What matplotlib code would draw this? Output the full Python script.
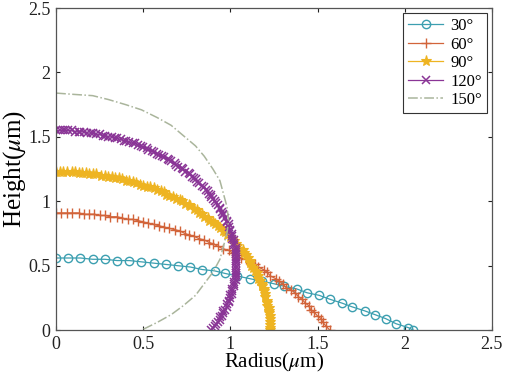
import matplotlib
matplotlib.use("Agg")
import matplotlib.pyplot as plt

plt.rcParams['font.family'] = ['Liberation Serif', 'DejaVu Serif']
plt.rcParams['mathtext.fontset'] = 'stix'

# droplet profiles, one point per marker
labels = ['30°', '60°', '90°', '120°', '150°']

r30 = [0.00, 0.07, 0.14, 0.21, 0.28, 0.35, 0.42, 0.49, 0.56, 0.63, 0.70, 0.77,
       0.84, 0.91, 0.97, 1.04, 1.11, 1.18, 1.25, 1.31, 1.38, 1.44, 1.51, 1.57,
       1.64, 1.70, 1.77, 1.83, 1.89, 1.95, 2.02, 2.05]
h30 = [0.56, 0.56, 0.56, 0.55, 0.55, 0.54, 0.54, 0.53, 0.52, 0.51, 0.50, 0.49,
       0.47, 0.46, 0.44, 0.42, 0.40, 0.38, 0.36, 0.34, 0.32, 0.29, 0.27, 0.24,
       0.21, 0.18, 0.15, 0.12, 0.09, 0.05, 0.02, 0.00]

r60 = [0.00, 0.03, 0.06, 0.09, 0.13, 0.16, 0.19, 0.22, 0.25, 0.28, 0.31, 0.35,
       0.38, 0.41, 0.44, 0.47, 0.50, 0.53, 0.56, 0.59, 0.62, 0.65, 0.68, 0.71,
       0.74, 0.76, 0.79, 0.82, 0.85, 0.88, 0.90, 0.93, 0.96, 0.99, 1.01, 1.04,
       1.06, 1.09, 1.11, 1.14, 1.16, 1.19, 1.21, 1.23, 1.26, 1.28, 1.30, 1.32,
       1.35, 1.37, 1.39, 1.41, 1.43, 1.45, 1.46, 1.48, 1.50, 1.52, 1.53, 1.55,
       1.57]
h60 = [0.91, 0.91, 0.91, 0.91, 0.91, 0.90, 0.90, 0.90, 0.89, 0.89, 0.88, 0.88,
       0.87, 0.86, 0.86, 0.85, 0.84, 0.83, 0.82, 0.81, 0.80, 0.79, 0.78, 0.77,
       0.75, 0.74, 0.73, 0.71, 0.70, 0.68, 0.67, 0.65, 0.63, 0.62, 0.60, 0.58,
       0.56, 0.55, 0.53, 0.51, 0.49, 0.47, 0.45, 0.42, 0.40, 0.38, 0.36, 0.33,
       0.31, 0.29, 0.26, 0.24, 0.21, 0.19, 0.16, 0.14, 0.11, 0.09, 0.06, 0.03,
       0.00]

r90 = [0.00, 0.02, 0.04, 0.06, 0.09, 0.11, 0.13, 0.15, 0.17, 0.19, 0.21, 0.23,
       0.26, 0.28, 0.30, 0.32, 0.34, 0.36, 0.38, 0.40, 0.42, 0.44, 0.46, 0.48,
       0.50, 0.52, 0.54, 0.56, 0.58, 0.60, 0.62, 0.63, 0.65, 0.67, 0.69, 0.71,
       0.72, 0.74, 0.76, 0.77, 0.79, 0.81, 0.82, 0.84, 0.85, 0.87, 0.88, 0.90,
       0.91, 0.93, 0.94, 0.96, 0.97, 0.98, 1.00, 1.01, 1.02, 1.03, 1.04, 1.05,
       1.07, 1.08, 1.09, 1.10, 1.11, 1.11, 1.12, 1.13, 1.14, 1.15, 1.16, 1.16,
       1.17, 1.18, 1.18, 1.19, 1.19, 1.20, 1.20, 1.21, 1.21, 1.21, 1.22, 1.22,
       1.22, 1.23, 1.23, 1.23, 1.23, 1.23, 1.23]
h90 = r90[::-1]

r120 = [0.00, 0.02, 0.04, 0.05, 0.07, 0.09, 0.11, 0.13, 0.14, 0.16, 0.18, 0.20,
        0.21, 0.23, 0.25, 0.27, 0.28, 0.30, 0.32, 0.34, 0.35, 0.37, 0.39, 0.40,
        0.42, 0.44, 0.45, 0.47, 0.49, 0.50, 0.52, 0.53, 0.55, 0.56, 0.58, 0.59,
        0.61, 0.62, 0.64, 0.65, 0.66, 0.68, 0.69, 0.70, 0.72, 0.73, 0.74, 0.76,
        0.77, 0.78, 0.79, 0.80, 0.81, 0.82, 0.84, 0.85, 0.86, 0.87, 0.88, 0.89,
        0.89, 0.90, 0.91, 0.92, 0.93, 0.94, 0.94, 0.95, 0.96, 0.96, 0.97, 0.98,
        0.98, 0.99, 0.99, 1.00, 1.00, 1.01, 1.01, 1.01, 1.02, 1.02, 1.02, 1.03,
        1.03, 1.03, 1.03, 1.03, 1.03, 1.03, 1.03, 1.03, 1.03, 1.03, 1.03, 1.03,
        1.03, 1.03, 1.02, 1.02, 1.02, 1.01, 1.01, 1.01, 1.00, 1.00, 0.99, 0.99,
        0.98, 0.98, 0.97, 0.96, 0.96, 0.95, 0.94, 0.94, 0.93, 0.92, 0.91, 0.90,
        0.89]
h120 = [1.55, 1.55, 1.55, 1.55, 1.55, 1.55, 1.54, 1.54, 1.54, 1.54, 1.53, 1.53,
        1.53, 1.52, 1.52, 1.51, 1.51, 1.50, 1.50, 1.49, 1.49, 1.48, 1.47, 1.47,
        1.46, 1.45, 1.45, 1.44, 1.43, 1.42, 1.41, 1.40, 1.39, 1.38, 1.37, 1.36,
        1.35, 1.34, 1.33, 1.32, 1.31, 1.30, 1.28, 1.27, 1.26, 1.25, 1.23, 1.22,
        1.21, 1.19, 1.18, 1.17, 1.15, 1.14, 1.12, 1.11, 1.09, 1.08, 1.06, 1.05,
        1.03, 1.02, 1.00, 0.99, 0.97, 0.95, 0.94, 0.92, 0.90, 0.89, 0.87, 0.85,
        0.84, 0.82, 0.80, 0.78, 0.77, 0.75, 0.73, 0.71, 0.70, 0.68, 0.66, 0.64,
        0.62, 0.61, 0.59, 0.57, 0.55, 0.54, 0.52, 0.50, 0.48, 0.46, 0.44, 0.43,
        0.41, 0.39, 0.37, 0.36, 0.34, 0.32, 0.30, 0.28, 0.27, 0.25, 0.23, 0.22,
        0.20, 0.18, 0.16, 0.15, 0.13, 0.11, 0.10, 0.08, 0.06, 0.05, 0.03, 0.02,
        0.00]

r150 = [0.00, 0.10, 0.21, 0.30, 0.40, 0.49, 0.58, 0.66, 0.73, 0.80, 0.85, 0.90,
        0.94, 0.96, 0.98, 0.99, 0.98, 0.96, 0.94, 0.90, 0.85, 0.80, 0.73, 0.66,
        0.58, 0.49]
h150 = [1.84, 1.83, 1.82, 1.79, 1.75, 1.71, 1.65, 1.59, 1.51, 1.43, 1.35, 1.25,
        1.16, 1.06, 0.96, 0.85, 0.75, 0.65, 0.55, 0.45, 0.36, 0.27, 0.19, 0.12,
        0.06, 0.00]

xticks = [0, 0.5, 1, 1.5, 2, 2.5]
yticks = [0, 0.5, 1, 1.5, 2, 2.5]

fig = plt.figure(figsize=(5.05, 3.83), dpi=100)
ax = fig.add_axes([0.111, 0.138, 0.863, 0.841])

ax.plot(r30, h30, color='#3c9fb0', lw=0.9, marker='o', ms=6,
        mfc='none', mew=1.0, label=labels[0])
ax.plot(r60, h60, color='#d2643a', lw=0.9, marker='+', ms=7.5,
        mew=1.0, label=labels[1])
ax.plot(r90, h90, color='#eeb422', lw=0.9, marker='*', ms=8,
        mew=0.8, label=labels[2])
ax.plot(r120, h120, color='#8a3596', lw=0.9, marker='x', ms=6,
        mew=1.1, label=labels[3])
ax.plot(r150, h150, color='#aab59c', lw=1.1, ls='-.', label=labels[4])

ax.set_xlim(0, 2.5)
ax.set_ylim(0, 2.5)
ax.set_xticks(xticks)
ax.set_yticks(yticks)
ax.set_xticklabels(['0', '0.5', '1', '1.5', '2', '2.5'])
ax.set_yticklabels(['0', '0.5', '1', '1.5', '2', '2.5'])
ax.tick_params(direction='in', length=3, width=0.8, top=True, right=True,
               labelsize=13, colors='#222222', pad=4)
for s in ax.spines.values():
    s.set_color('#555555')
    s.set_linewidth(0.9)

ax.set_xlabel(r'Radius($\mu$m)', fontsize=15, labelpad=-1)
ax.set_ylabel(r'Height($\mu$m)', fontsize=18, labelpad=0)

leg = ax.legend(loc='upper right', fontsize=12, numpoints=1, handlelength=2.1,
                borderaxespad=0.3, labelspacing=0.15, fancybox=False,
                framealpha=1, handletextpad=0.4, borderpad=0.3)
leg.get_frame().set_edgecolor('#333333')
leg.get_frame().set_linewidth(0.8)

fig.savefig('out.png', dpi=100)
